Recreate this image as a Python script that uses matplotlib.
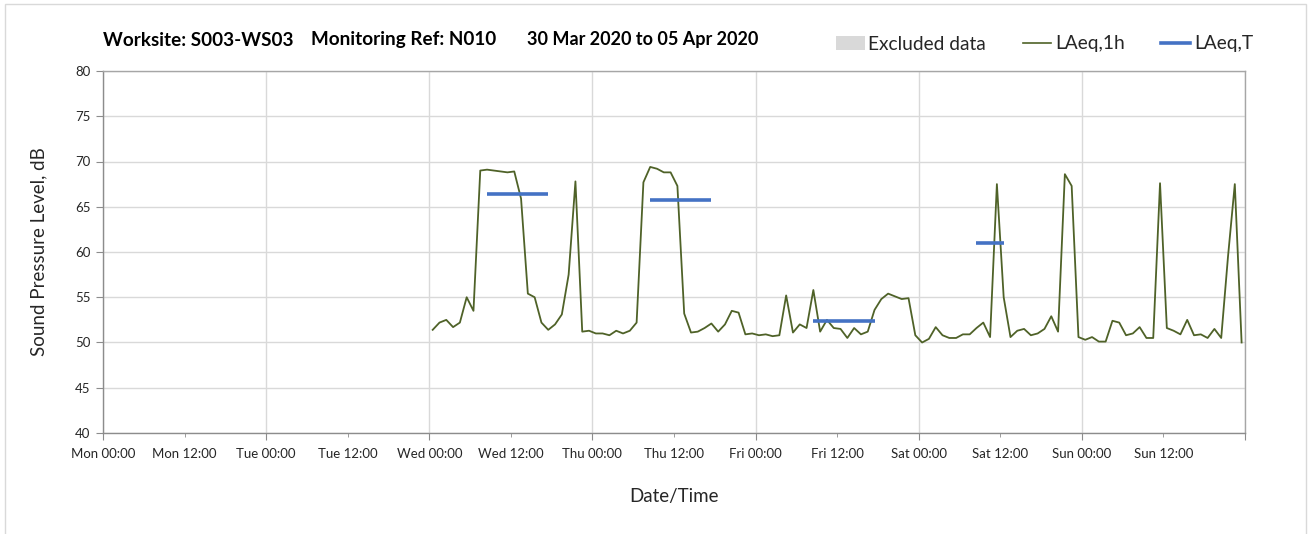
import datetime as dt
import matplotlib
matplotlib.use("Agg")
import matplotlib.pyplot as plt
import matplotlib.dates as mdates
from matplotlib.patches import Patch, Rectangle
from matplotlib.lines import Line2D

plt.rcParams['font.family'] = ['Lato', 'DejaVu Sans']

# Hourly LAeq,1h values, Wed 01 Apr 2020 00:00 to Sun 05 Apr 2020 24:00 (plotted mid-hour)
laeq_1h = [
    51.4, 52.2, 52.5, 51.7, 52.2, 55.0, 53.5, 69.0, 69.1, 69.0, 68.9, 68.8,
    68.9, 65.9, 55.4, 55.0, 52.2, 51.4, 52.0, 53.1, 57.5, 67.8, 51.2, 51.3,
    51.0, 51.0, 50.8, 51.3, 51.0, 51.3, 52.2, 67.7, 69.4, 69.2, 68.8, 68.8,
    67.3, 53.2, 51.1, 51.2, 51.6, 52.1, 51.2, 52.0, 53.5, 53.3, 50.9, 51.0,
    50.8, 50.9, 50.7, 50.8, 55.2, 51.1, 52.0, 51.6, 55.8, 51.2, 52.5, 51.6,
    51.5, 50.5, 51.6, 50.9, 51.2, 53.6, 54.8, 55.4, 55.1, 54.8, 54.9, 50.8,
    50.0, 50.4, 51.7, 50.8, 50.5, 50.5, 50.9, 50.9, 51.6, 52.2, 50.6, 67.5,
    55.0, 50.6, 51.3, 51.5, 50.8, 51.0, 51.5, 52.9, 51.2, 68.6, 67.3, 50.6,
    50.3, 50.6, 50.1, 50.1, 52.4, 52.2, 50.8, 51.0, 51.7, 50.5, 50.5, 67.6,
    51.6, 51.3, 50.9, 52.5, 50.8, 50.9, 50.5, 51.5, 50.5, 59.5, 67.5, 50.0,
]

# LAeq,T over each assessment period: (start, end, level)
laeq_t_periods = [
    ("2020-04-01 08:30", "2020-04-01 17:30", 66.4),
    ("2020-04-02 08:30", "2020-04-02 17:30", 65.8),
    ("2020-04-03 08:30", "2020-04-03 17:30", 52.4),
    ("2020-04-04 08:30", "2020-04-04 12:30", 61.0),
]

title_parts = ["Worksite: S003-WS03", "Monitoring Ref: N010", "30 Mar 2020 to 05 Apr 2020"]
y_label = "Sound Pressure Level, dB"
x_label = "Date/Time"
legend_labels = ["Excluded data", "LAeq,1h", "LAeq,T"]

week_start = dt.datetime(2020, 3, 30)
week_end = dt.datetime(2020, 4, 6)
data_start = dt.datetime(2020, 4, 1, 0, 30)
times = [data_start + dt.timedelta(hours=i) for i in range(len(laeq_1h))]

green = "#4f6228"
blue = "#4472c4"
grid_c = "#d9d9d9"
axis_c = "#8c8c8c"
text_c = "#262626"

W, H = 1309, 534
fig = plt.figure(figsize=(W / 100, H / 100), dpi=100)
ax = fig.add_axes([103 / W, 1 - 433 / H, (1245 - 103) / W, (433 - 71) / H])

# outer chart frame
fig.patches.append(Rectangle((5 / W, -0.01), 1301 / W, 1 - 4 / H + 0.01,
                             transform=fig.transFigure, fill=False,
                             edgecolor=grid_c, linewidth=1.0, zorder=0))

ax.plot(times, laeq_1h, color=green, linewidth=1.3, zorder=3)
for s, e, v in laeq_t_periods:
    ax.plot([dt.datetime.fromisoformat(s), dt.datetime.fromisoformat(e)], [v, v],
            color=blue, linewidth=2.6, solid_capstyle="butt", zorder=4)

ax.set_xlim(week_start, week_end)
ax.set_ylim(40, 80)
ax.set_yticks(range(40, 81, 5))

ax.xaxis.set_major_locator(mdates.HourLocator(byhour=[0]))
ax.xaxis.set_minor_locator(mdates.HourLocator(byhour=[12]))
end_num = mdates.date2num(week_end)


def tick_label(x, pos=None):
    if abs(x - end_num) < 1e-6:
        return ""
    return mdates.num2date(x).strftime("%a %H:%M")


ax.xaxis.set_major_formatter(plt.FuncFormatter(tick_label))
ax.xaxis.set_minor_formatter(plt.FuncFormatter(tick_label))

ax.grid(True, which="major", color=grid_c, linewidth=1.0, zorder=0)
ax.set_axisbelow(True)

for sp in ["left", "bottom"]:
    ax.spines[sp].set_color(axis_c)
    ax.spines[sp].set_linewidth(1.0)
for sp in ["top", "right"]:
    ax.spines[sp].set_color("#a6a6a6")
    ax.spines[sp].set_linewidth(1.0)

ax.tick_params(axis="x", which="major", length=5, color=axis_c, labelsize=9.5,
               labelcolor=text_c, pad=6)
ax.tick_params(axis="x", which="minor", length=3, color=axis_c, labelsize=9.5,
               labelcolor=text_c, pad=8)
ax.tick_params(axis="y", length=5, color=axis_c, labelsize=9.5, labelcolor=text_c, pad=4)

ax.set_ylabel(y_label, fontsize=13.5, color=text_c, labelpad=20)
ax.set_xlabel(x_label, fontsize=13.5, color=text_c, labelpad=20)

for part, x0, size in zip(title_parts, [103, 311, 527], [13.6, 13.6, 13]):
    fig.text(x0 / W, 1 - 40 / H, part, fontsize=size, fontweight="bold",
             color="black", va="center", ha="left")

handles = [
    Patch(facecolor="#d9d9d9", edgecolor="none"),
    Line2D([], [], color=green, linewidth=1.2),
    Line2D([], [], color=blue, linewidth=2.6),
]
fig.legend(handles, legend_labels,
           loc="center right", bbox_to_anchor=(1253 / W, 1 - 44 / H),
           ncol=3, frameon=False, fontsize=13.8, handlelength=1.5,
           handletextpad=0.2, columnspacing=1.9, labelcolor=text_c,
           borderpad=0.0, borderaxespad=0.0)

fig.savefig("out.png", dpi=100, facecolor="white")
